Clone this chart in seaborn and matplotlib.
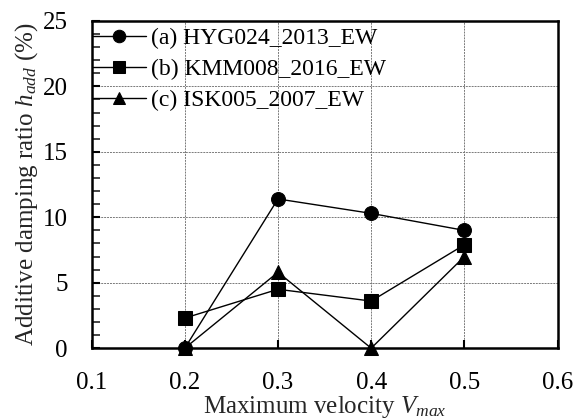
import matplotlib
matplotlib.use("Agg")
import matplotlib.pyplot as plt
import seaborn as sns
import pandas as pd
from matplotlib.ticker import MultipleLocator

velocities = [0.2, 0.3, 0.4, 0.5]
series_names = ["(a) HYG024_2013_EW", "(b) KMM008_2016_EW", "(c) ISK005_2007_EW"]
hyg024 = [0.0, 11.4, 10.3, 9.0]
kmm008 = [2.3, 4.5, 3.6, 7.9]
isk005 = [0.0, 5.8, 0.0, 7.0]
x_ticks = [0.1, 0.2, 0.3, 0.4, 0.5, 0.6]
y_ticks = [0, 5, 10, 15, 20, 25]

rows = []
for name, vals in zip(series_names, [hyg024, kmm008, isk005]):
    for v, h in zip(velocities, vals):
        rows.append({"V": v, "h": h, "Record": name})
df = pd.DataFrame(rows)

sns.set_theme(style="ticks")
plt.rcParams["font.family"] = ["Liberation Serif", "DejaVu Serif"]
plt.rcParams["mathtext.fontset"] = "custom"
plt.rcParams["mathtext.rm"] = "Liberation Serif"
plt.rcParams["mathtext.it"] = "Liberation Serif:italic"

fig = plt.figure(figsize=(5.76, 4.19), dpi=100)
ax = fig.add_axes([0.159, 0.169, 0.809, 0.781])

sns.lineplot(data=df, x="V", y="h", hue="Record", style="Record",
             palette=["black"] * 3, markers=["o", "s", "^"], dashes=False,
             markersize=10, linewidth=1.0, markeredgecolor="black",
             ax=ax, clip_on=False, zorder=5, legend=True)

ax.set_xlim(0.1, 0.6)
ax.set_ylim(0, 25)
ax.set_xticks(x_ticks)
ax.set_xticklabels([f"{t:.1f}" for t in x_ticks])
ax.set_yticks(y_ticks)
ax.yaxis.set_minor_locator(MultipleLocator(1))
ax.grid(True, which="major", color="#7a7a7a", linestyle=(0, (2, 1)), linewidth=0.7)
ax.set_axisbelow(True)

for s in ax.spines.values():
    s.set_visible(True)
    s.set_color("black")
    s.set_linewidth(1.8)

ax.tick_params(axis="both", which="major", direction="in", length=6, width=1.5,
               labelsize=18, colors="black")
ax.tick_params(axis="x", which="major", pad=17.5, bottom=True, top=False)
ax.tick_params(axis="x", which="minor", bottom=False, top=False)
ax.tick_params(axis="y", which="major", pad=17, left=True, right=False)
ax.tick_params(axis="y", which="minor", direction="in", length=6, width=1.2,
               left=True, right=False)

ax.set_xlabel(r"Maximum velocity $V_{max}$", fontsize=18, labelpad=0)
ax.set_ylabel(r"Additive damping ratio $h_{add}$ (%)", fontsize=18, labelpad=2.5)

leg = ax.legend(loc="upper left", frameon=False, fontsize=17, handlelength=2.25,
                handletextpad=0.22, borderaxespad=0.0, borderpad=0.16,
                labelspacing=0.4, markerscale=0.9, bbox_to_anchor=(-0.006, 0.992))
for t in leg.get_texts():
    t.set_color("black")

fig.savefig("out.png", dpi=100)
